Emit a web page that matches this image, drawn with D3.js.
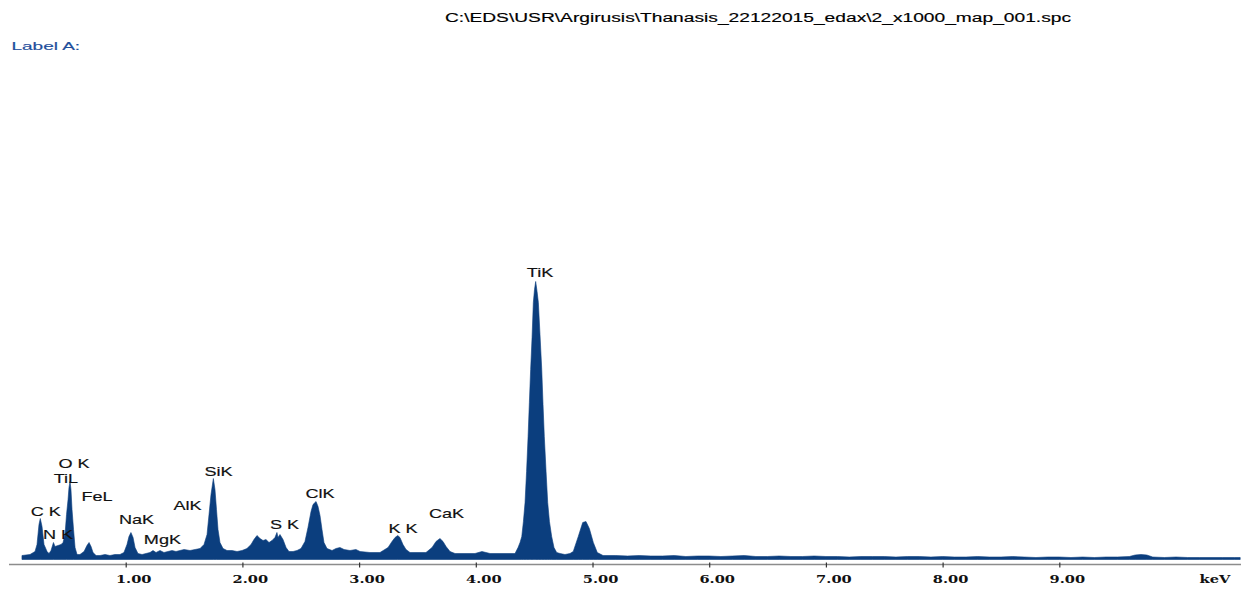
<!DOCTYPE html>
<html>
<head>
<meta charset="utf-8">
<script src="https://cdn.jsdelivr.net/npm/d3@7"></script>
<style>
  body { margin: 0; background: #ffffff; }
  svg { display: block; }
</style>
</head>
<body>
<svg id="chart" width="1241" height="590"></svg>
<script>
// EDS spectrum: channel energy (keV) and intensity (counts)
const energyKeV = [
  0.111, 0.180, 0.223, 0.240, 0.257, 0.268, 0.283, 0.300, 0.326, 0.343,
  0.360, 0.381, 0.394, 0.420, 0.446, 0.463, 0.480, 0.493, 0.506, 0.514,
  0.523, 0.531, 0.540, 0.553, 0.566, 0.583, 0.608, 0.643, 0.668, 0.686,
  0.703, 0.720, 0.746, 0.780, 0.823, 0.865, 0.908, 0.951, 0.985, 1.011,
  1.028, 1.045, 1.063, 1.080, 1.105, 1.140, 1.174, 1.208, 1.234, 1.260,
  1.294, 1.328, 1.362, 1.397, 1.431, 1.465, 1.500, 1.551, 1.594, 1.637,
  1.671, 1.697, 1.714, 1.731, 1.751, 1.765, 1.778, 1.791, 1.808, 1.834,
  1.868, 1.911, 1.954, 1.997, 2.039, 2.074, 2.099, 2.125, 2.151, 2.177,
  2.202, 2.228, 2.254, 2.279, 2.296, 2.305, 2.322, 2.348, 2.374, 2.399,
  2.434, 2.468, 2.502, 2.536, 2.562, 2.588, 2.605, 2.631, 2.648, 2.665,
  2.682, 2.699, 2.725, 2.768, 2.802, 2.836, 2.871, 2.922, 2.973, 3.008,
  3.093, 3.179, 3.248, 3.282, 3.308, 3.331, 3.350, 3.376, 3.402, 3.436,
  3.505, 3.573, 3.625, 3.659, 3.693, 3.719, 3.745, 3.779, 3.822, 3.907,
  3.993, 4.053, 4.122, 4.207, 4.293, 4.336, 4.362, 4.379, 4.394, 4.408,
  4.422, 4.435, 4.448, 4.459, 4.470, 4.482, 4.493, 4.503, 4.513, 4.525,
  4.536, 4.550, 4.565, 4.576, 4.587, 4.602, 4.616, 4.631, 4.650, 4.670,
  4.693, 4.722, 4.764, 4.807, 4.835, 4.878, 4.916, 4.944, 4.973, 5.007,
  5.041, 5.090, 5.200, 5.300, 5.400, 5.500, 5.600, 5.700, 5.800, 5.900,
  6.000, 6.100, 6.200, 6.300, 6.400, 6.500, 6.600, 6.700, 6.800, 6.900,
  7.000, 7.100, 7.200, 7.300, 7.400, 7.500, 7.600, 7.700, 7.800, 7.900,
  8.000, 8.100, 8.200, 8.300, 8.400, 8.500, 8.600, 8.700, 8.800, 8.900,
  9.000, 9.100, 9.200, 9.300, 9.400, 9.500, 9.600, 9.650, 9.700, 9.750,
  9.800, 9.900, 10.000, 10.100, 10.200, 10.300, 10.400, 10.500, 10.550
];
const counts = [
   40,  50,  80, 150, 350, 410, 330, 150,  80,  60,
   90, 170, 130, 140, 150, 170, 250, 450, 600, 720,
  780, 700, 500, 300, 120,  50,  50,  80, 140, 170,
  130,  70,  40,  40,  50,  40,  50,  50,  70, 150,
  230, 270, 220, 120,  60,  50,  60,  70,  90,  70,
   90,  70,  80,  90,  80,  90, 100,  90, 100, 110,
  150, 250, 450, 650, 810, 700, 500, 300, 170, 110,
   90,  90,  80,  90, 110, 150, 200, 240, 210, 190,
  200, 170, 190, 220, 270, 220, 250, 200, 120,  80,
   80,  90, 110, 180, 320, 480, 550, 580, 530, 440,
  300, 170, 110,  90, 110, 120, 100,  90, 100,  80,
   70,  70, 120, 180, 220, 240, 220, 150, 100,  70,
   70,  70, 120, 180, 210, 180, 130,  80,  60,  60,
   60,  80,  60,  60,  60,  60, 120, 170, 230, 380,
  570, 880, 1230, 1570, 1900, 2220, 2570, 2700, 2780, 2680,
  2570, 2250, 1900, 1550, 1230, 880, 570, 380, 230, 120,
   70,  60,  50,  60,  80, 230, 370, 380, 310, 170,
   70,  40,  40,  35,  40,  35,  35,  40,  30,  35,
   35,  30,  35,  40,  30,  30,  35,  30,  30,  35,
   30,  30,  25,  30,  30,  30,  25,  30,  30,  25,
   30,  25,  25,  30,  25,  25,  30,  25,  20,  25,
   25,  20,  25,  20,  25,  25,  30,  45,  50,  45,
   25,  20,  25,  20,  20,  20,  20,  20,  20
];

// Peak identification labels: text, label centre (keV), label baseline (counts)
const peakLabels = ["C K", "N K", "O K", "TiL", "FeL", "NaK", "MgK", "AlK", "SiK", "S K", "ClK", "K K", "CaK", "TiK"];
const labelKeV    = [0.315, 0.420, 0.557, 0.488, 0.754, 1.093, 1.315, 1.530, 1.795, 2.361, 2.665, 3.376, 3.749, 4.550];
const labelCounts = [435, 205, 915, 765, 585, 355, 155, 495, 835, 305, 615, 265, 415, 2825];

// Energy axis
const tickValues = [1, 2, 3, 4, 5, 6, 7, 8, 9];
const axisUnit = "keV";

const fileName = "C:\\EDS\\USR\\Argirusis\\Thanasis_22122015_edax\\2_x1000_map_001.spc";
const panelLabel = "Label A:";

// ---------------------------------------------------------------
const svg = d3.select("#chart");
svg.append("rect").attr("width", 1241).attr("height", 590).attr("fill", "#ffffff");

const x = d3.scaleLinear().domain([0, 10.55]).range([9, 1240.2]);
const y = d3.scaleLinear().domain([0, 5000]).range([559.5, 59.5]);

const spectrum = energyKeV.map((e, i) => ({ e, c: counts[i] }));

const area = d3.area()
  .x(d => x(d.e))
  .y0(y(0))
  .y1(d => y(d.c))
  .curve(d3.curveLinear);

svg.append("path")
  .datum(spectrum)
  .attr("d", area)
  .attr("fill", "#0b3e7e")
  .attr("stroke", "#0b3e7e")
  .attr("stroke-width", 0.6)
  .attr("stroke-linejoin", "round");

// Axis along the bottom
const axisY = 564.5;
const axis = d3.axisBottom(x)
  .tickValues(tickValues)
  .tickFormat(d3.format(".2f"))
  .tickSizeOuter(0)
  .tickSizeInner(3);

const gAxis = svg.append("g")
  .attr("transform", `translate(0,${axisY})`)
  .call(axis);

gAxis.select(".domain")
  .attr("stroke", "#8c8c8c")
  .attr("stroke-width", 1.6)
  .attr("d", `M${x.range()[0]},0H1241`);

gAxis.selectAll(".tick line")
  .attr("y1", -2)
  .attr("y2", 3)
  .attr("stroke", "#333")
  .attr("stroke-width", 1.2);

const tickStretch = 1.33;
gAxis.selectAll(".tick text")
  .attr("y", 18.5)
  .attr("dy", 0)
  .attr("x", 7.5 / tickStretch)
  .attr("transform", `scale(${tickStretch},1)`)
  .attr("font-family", "'DejaVu Serif', serif")
  .attr("font-weight", "bold")
  .attr("font-size", 11)
  .attr("fill", "#111");

svg.append("text")
  .attr("transform", `translate(1215,${axisY + 18.5}) scale(${tickStretch},1)`)
  .attr("text-anchor", "middle")
  .attr("font-family", "'DejaVu Serif', serif")
  .attr("font-weight", "bold")
  .attr("font-size", 11)
  .attr("fill", "#111")
  .text(axisUnit);

// Peak labels
const labelStretch = 1.45;
svg.append("g")
  .selectAll("text")
  .data(peakLabels)
  .join("text")
  .attr("transform", (d, i) => `translate(${x(labelKeV[i])},${y(labelCounts[i])}) scale(${labelStretch},1)`)
  .attr("text-anchor", "middle")
  .attr("font-family", "'Liberation Sans', Arial, sans-serif")
  .attr("font-size", 12.5)
  .attr("fill", "#111")
  .attr("stroke", "#111")
  .attr("stroke-width", 0.15)
  .text(d => d);

// File name header
svg.append("text")
  .attr("transform", "translate(758,22) scale(1.6,1)")
  .attr("text-anchor", "middle")
  .attr("font-family", "'Liberation Sans', Arial, sans-serif")
  .attr("font-size", 12)
  .attr("fill", "#000")
  .attr("stroke", "#000")
  .attr("stroke-width", 0.15)
  .text(fileName);

// Panel label
svg.append("text")
  .attr("transform", "translate(11.5,50) scale(1.9,1)")
  .attr("font-family", "'Liberation Sans', Arial, sans-serif")
  .attr("font-size", 10)
  .attr("fill", "#1f4f9c")
  .attr("stroke", "#1f4f9c")
  .attr("stroke-width", 0.15)
  .text(panelLabel);
</script>
</body>
</html>
